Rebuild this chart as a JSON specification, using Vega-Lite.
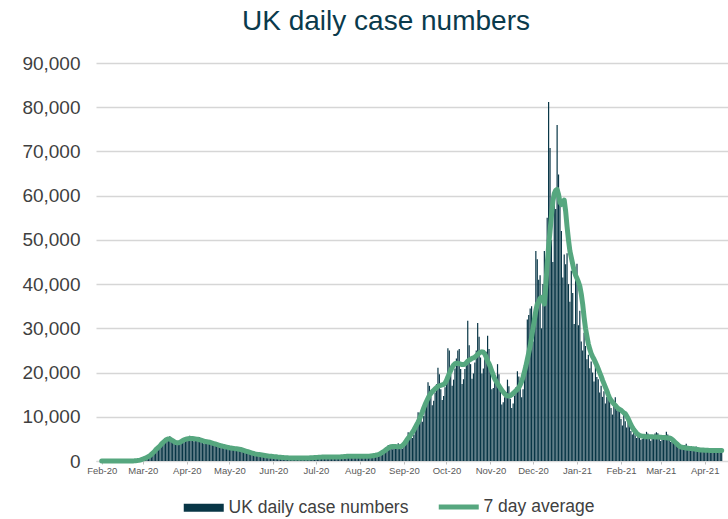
{
  "$schema": "https://vega.github.io/schema/vega-lite/v6.json",
  "width": 632,
  "height": 398,
  "autosize": {"type": "none"},
  "padding": {"left": 96, "top": 63, "right": 0, "bottom": 58},
  "background": "white",
  "config": {"view": {"stroke": null}},
  "title": {
    "text": "UK daily case numbers",
    "font": "Liberation Sans",
    "fontSize": 28,
    "fontWeight": "normal",
    "color": "#0a3a4c",
    "anchor": "middle",
    "dx": -26,
    "offset": 18
  },
  "data": {
    "values": [
      {"date":"2020-02-01","cases":0,"avg7":0},{"date":"2020-02-02","cases":0,"avg7":0},{"date":"2020-02-03","cases":0,"avg7":0},{"date":"2020-02-04","cases":0,"avg7":0},{"date":"2020-02-05","cases":0,"avg7":0},{"date":"2020-02-06","cases":2,"avg7":0},{"date":"2020-02-07","cases":0,"avg7":0},
      {"date":"2020-02-08","cases":1,"avg7":0},{"date":"2020-02-09","cases":0,"avg7":0},{"date":"2020-02-10","cases":0,"avg7":0},{"date":"2020-02-11","cases":4,"avg7":0},{"date":"2020-02-12","cases":0,"avg7":0},{"date":"2020-02-13","cases":0,"avg7":0},{"date":"2020-02-14","cases":0,"avg7":0},
      {"date":"2020-02-15","cases":0,"avg7":0},{"date":"2020-02-16","cases":0,"avg7":0},{"date":"2020-02-17","cases":0,"avg7":0},{"date":"2020-02-18","cases":0,"avg7":0},{"date":"2020-02-19","cases":0,"avg7":0},{"date":"2020-02-20","cases":0,"avg7":0},{"date":"2020-02-21","cases":1,"avg7":0},
      {"date":"2020-02-22","cases":10,"avg7":10},{"date":"2020-02-23","cases":30,"avg7":20},{"date":"2020-02-24","cases":50,"avg7":40},{"date":"2020-02-25","cases":80,"avg7":70},{"date":"2020-02-26","cases":120,"avg7":100},{"date":"2020-02-27","cases":170,"avg7":140},{"date":"2020-02-28","cases":230,"avg7":200},
      {"date":"2020-02-29","cases":320,"avg7":300},
      {"date":"2020-03-01","cases":390,"avg7":400},{"date":"2020-03-02","cases":480,"avg7":550},{"date":"2020-03-03","cases":640,"avg7":700},{"date":"2020-03-04","cases":830,"avg7":850},{"date":"2020-03-05","cases":1050,"avg7":1000},{"date":"2020-03-06","cases":1340,"avg7":1200},
      {"date":"2020-03-07","cases":1620,"avg7":1500},{"date":"2020-03-08","cases":1750,"avg7":1800},{"date":"2020-03-09","cases":1850,"avg7":2100},{"date":"2020-03-10","cases":2300,"avg7":2500},{"date":"2020-03-11","cases":2740,"avg7":2800},{"date":"2020-03-12","cases":3260,"avg7":3100},{"date":"2020-03-13","cases":3810,"avg7":3400},
      {"date":"2020-03-14","cases":4100,"avg7":3800},{"date":"2020-03-15","cases":3980,"avg7":4100},{"date":"2020-03-16","cases":3870,"avg7":4400},{"date":"2020-03-17","cases":4320,"avg7":4700},{"date":"2020-03-18","cases":4800,"avg7":4900},{"date":"2020-03-19","cases":5250,"avg7":5000},{"date":"2020-03-20","cases":5600,"avg7":5000},
      {"date":"2020-03-21","cases":5180,"avg7":4800},{"date":"2020-03-22","cases":4460,"avg7":4600},{"date":"2020-03-23","cases":3870,"avg7":4400},{"date":"2020-03-24","cases":3860,"avg7":4200},{"date":"2020-03-25","cases":4020,"avg7":4100},{"date":"2020-03-26","cases":4310,"avg7":4100},{"date":"2020-03-27","cases":4700,"avg7":4200},
      {"date":"2020-03-28","cases":4750,"avg7":4400},{"date":"2020-03-29","cases":4460,"avg7":4600},{"date":"2020-03-30","cases":4220,"avg7":4800},{"date":"2020-03-31","cases":4510,"avg7":4900},
      {"date":"2020-04-01","cases":4900,"avg7":5000},{"date":"2020-04-02","cases":5300,"avg7":5050},{"date":"2020-04-03","cases":5710,"avg7":5100},{"date":"2020-04-04","cases":5510,"avg7":5100},{"date":"2020-04-05","cases":4950,"avg7":5100},{"date":"2020-04-06","cases":4440,"avg7":5050},{"date":"2020-04-07","cases":4600,"avg7":5000},
      {"date":"2020-04-08","cases":4850,"avg7":4950},{"date":"2020-04-09","cases":5150,"avg7":4900},{"date":"2020-04-10","cases":5380,"avg7":4800},{"date":"2020-04-11","cases":5080,"avg7":4700},{"date":"2020-04-12","cases":4460,"avg7":4600},{"date":"2020-04-13","cases":3960,"avg7":4500},{"date":"2020-04-14","cases":4050,"avg7":4400},
      {"date":"2020-04-15","cases":4260,"avg7":4350},{"date":"2020-04-16","cases":4520,"avg7":4300},{"date":"2020-04-17","cases":4760,"avg7":4250},{"date":"2020-04-18","cases":4480,"avg7":4150},{"date":"2020-04-19","cases":3930,"avg7":4050},{"date":"2020-04-20","cases":3480,"avg7":3950},{"date":"2020-04-21","cases":3540,"avg7":3850},
      {"date":"2020-04-22","cases":3680,"avg7":3750},{"date":"2020-04-23","cases":3830,"avg7":3650},{"date":"2020-04-24","cases":3980,"avg7":3550},{"date":"2020-04-25","cases":3730,"avg7":3450},{"date":"2020-04-26","cases":3280,"avg7":3380},{"date":"2020-04-27","cases":2900,"avg7":3300},{"date":"2020-04-28","cases":2960,"avg7":3220},
      {"date":"2020-04-29","cases":3090,"avg7":3150},{"date":"2020-04-30","cases":3230,"avg7":3080},
      {"date":"2020-05-01","cases":3360,"avg7":3000},{"date":"2020-05-02","cases":3190,"avg7":2950},{"date":"2020-05-03","cases":2810,"avg7":2900},{"date":"2020-05-04","cases":2510,"avg7":2850},{"date":"2020-05-05","cases":2580,"avg7":2800},{"date":"2020-05-06","cases":2700,"avg7":2750},{"date":"2020-05-07","cases":2840,"avg7":2700},
      {"date":"2020-05-08","cases":2970,"avg7":2650},{"date":"2020-05-09","cases":2810,"avg7":2600},{"date":"2020-05-10","cases":2430,"avg7":2500},{"date":"2020-05-11","cases":2110,"avg7":2400},{"date":"2020-05-12","cases":2120,"avg7":2300},{"date":"2020-05-13","cases":2160,"avg7":2200},{"date":"2020-05-14","cases":2210,"avg7":2100},
      {"date":"2020-05-15","cases":2240,"avg7":2000},{"date":"2020-05-16","cases":2050,"avg7":1900},{"date":"2020-05-17","cases":1750,"avg7":1800},{"date":"2020-05-18","cases":1500,"avg7":1700},{"date":"2020-05-19","cases":1470,"avg7":1600},{"date":"2020-05-20","cases":1520,"avg7":1550},{"date":"2020-05-21","cases":1580,"avg7":1500},
      {"date":"2020-05-22","cases":1620,"avg7":1450},{"date":"2020-05-23","cases":1510,"avg7":1400},{"date":"2020-05-24","cases":1310,"avg7":1350},{"date":"2020-05-25","cases":1140,"avg7":1300},{"date":"2020-05-26","cases":1150,"avg7":1250},{"date":"2020-05-27","cases":1180,"avg7":1200},{"date":"2020-05-28","cases":1210,"avg7":1150},
      {"date":"2020-05-29","cases":1230,"avg7":1100},{"date":"2020-05-30","cases":1170,"avg7":1080},{"date":"2020-05-31","cases":1020,"avg7":1050},
      {"date":"2020-06-01","cases":880,"avg7":1000},{"date":"2020-06-02","cases":890,"avg7":970},{"date":"2020-06-03","cases":920,"avg7":940},{"date":"2020-06-04","cases":950,"avg7":900},{"date":"2020-06-05","cases":970,"avg7":870},{"date":"2020-06-06","cases":910,"avg7":840},{"date":"2020-06-07","cases":780,"avg7":800},
      {"date":"2020-06-08","cases":690,"avg7":780},{"date":"2020-06-09","cases":700,"avg7":760},{"date":"2020-06-10","cases":730,"avg7":740},{"date":"2020-06-11","cases":760,"avg7":720},{"date":"2020-06-12","cases":780,"avg7":700},{"date":"2020-06-13","cases":760,"avg7":700},{"date":"2020-06-14","cases":680,"avg7":700},
      {"date":"2020-06-15","cases":620,"avg7":700},{"date":"2020-06-16","cases":640,"avg7":700},{"date":"2020-06-17","cases":690,"avg7":700},{"date":"2020-06-18","cases":740,"avg7":700},{"date":"2020-06-19","cases":780,"avg7":700},{"date":"2020-06-20","cases":740,"avg7":700},{"date":"2020-06-21","cases":690,"avg7":700},
      {"date":"2020-06-22","cases":610,"avg7":700},{"date":"2020-06-23","cases":650,"avg7":700},{"date":"2020-06-24","cases":680,"avg7":700},{"date":"2020-06-25","cases":750,"avg7":700},{"date":"2020-06-26","cases":790,"avg7":700},{"date":"2020-06-27","cases":780,"avg7":720},{"date":"2020-06-28","cases":720,"avg7":740},
      {"date":"2020-06-29","cases":670,"avg7":760},{"date":"2020-06-30","cases":720,"avg7":780},
      {"date":"2020-07-01","cases":780,"avg7":800},{"date":"2020-07-02","cases":860,"avg7":820},{"date":"2020-07-03","cases":950,"avg7":850},{"date":"2020-07-04","cases":940,"avg7":870},{"date":"2020-07-05","cases":850,"avg7":880},{"date":"2020-07-06","cases":790,"avg7":900},{"date":"2020-07-07","cases":830,"avg7":900},
      {"date":"2020-07-08","cases":880,"avg7":900},{"date":"2020-07-09","cases":950,"avg7":900},{"date":"2020-07-10","cases":1010,"avg7":900},{"date":"2020-07-11","cases":970,"avg7":900},{"date":"2020-07-12","cases":870,"avg7":900},{"date":"2020-07-13","cases":790,"avg7":900},{"date":"2020-07-14","cases":830,"avg7":900},
      {"date":"2020-07-15","cases":880,"avg7":900},{"date":"2020-07-16","cases":950,"avg7":900},{"date":"2020-07-17","cases":1010,"avg7":900},{"date":"2020-07-18","cases":990,"avg7":920},{"date":"2020-07-19","cases":920,"avg7":950},{"date":"2020-07-20","cases":860,"avg7":980},{"date":"2020-07-21","cases":920,"avg7":1000},
      {"date":"2020-07-22","cases":1000,"avg7":1020},{"date":"2020-07-23","cases":1100,"avg7":1050},{"date":"2020-07-24","cases":1210,"avg7":1080},{"date":"2020-07-25","cases":1190,"avg7":1100},{"date":"2020-07-26","cases":1070,"avg7":1100},{"date":"2020-07-27","cases":970,"avg7":1100},{"date":"2020-07-28","cases":1010,"avg7":1100},
      {"date":"2020-07-29","cases":1080,"avg7":1100},{"date":"2020-07-30","cases":1160,"avg7":1100},{"date":"2020-07-31","cases":1230,"avg7":1100},
      {"date":"2020-08-01","cases":1190,"avg7":1100},{"date":"2020-08-02","cases":1070,"avg7":1100},{"date":"2020-08-03","cases":970,"avg7":1100},{"date":"2020-08-04","cases":1010,"avg7":1100},{"date":"2020-08-05","cases":1080,"avg7":1100},{"date":"2020-08-06","cases":1160,"avg7":1100},{"date":"2020-08-07","cases":1230,"avg7":1100},
      {"date":"2020-08-08","cases":1210,"avg7":1120},{"date":"2020-08-09","cases":1120,"avg7":1150},{"date":"2020-08-10","cases":1060,"avg7":1200},{"date":"2020-08-11","cases":1150,"avg7":1250},{"date":"2020-08-12","cases":1270,"avg7":1300},{"date":"2020-08-13","cases":1450,"avg7":1380},{"date":"2020-08-14","cases":1620,"avg7":1450},
      {"date":"2020-08-15","cases":1840,"avg7":1600},{"date":"2020-08-16","cases":1710,"avg7":1800},{"date":"2020-08-17","cases":1600,"avg7":2000},{"date":"2020-08-18","cases":1870,"avg7":2200},{"date":"2020-08-19","cases":2330,"avg7":2450},{"date":"2020-08-20","cases":2840,"avg7":2700},{"date":"2020-08-21","cases":3630,"avg7":2900},
      {"date":"2020-08-22","cases":3570,"avg7":3100},{"date":"2020-08-23","cases":3090,"avg7":3250},{"date":"2020-08-24","cases":2640,"avg7":3300},{"date":"2020-08-25","cases":2810,"avg7":3300},{"date":"2020-08-26","cases":3140,"avg7":3300},{"date":"2020-08-27","cases":3410,"avg7":3250},{"date":"2020-08-28","cases":4000,"avg7":3200},
      {"date":"2020-08-29","cases":3680,"avg7":3200},{"date":"2020-08-30","cases":3140,"avg7":3300},{"date":"2020-08-31","cases":2800,"avg7":3500},
      {"date":"2020-09-01","cases":3230,"avg7":3800},{"date":"2020-09-02","cases":3990,"avg7":4200},{"date":"2020-09-03","cases":4940,"avg7":4700},{"date":"2020-09-04","cases":6500,"avg7":5200},{"date":"2020-09-05","cases":6330,"avg7":5500},{"date":"2020-09-06","cases":5700,"avg7":6000},{"date":"2020-09-07","cases":5200,"avg7":6500},
      {"date":"2020-09-08","cases":5950,"avg7":7000},{"date":"2020-09-09","cases":7220,"avg7":7600},{"date":"2020-09-10","cases":8610,"avg7":8200},{"date":"2020-09-11","cases":11000,"avg7":8800},{"date":"2020-09-12","cases":10900,"avg7":9500},{"date":"2020-09-13","cases":9800,"avg7":10300},{"date":"2020-09-14","cases":8900,"avg7":11100},
      {"date":"2020-09-15","cases":10200,"avg7":12000},{"date":"2020-09-16","cases":12200,"avg7":12800},{"date":"2020-09-17","cases":14200,"avg7":13500},{"date":"2020-09-18","cases":17800,"avg7":14200},{"date":"2020-09-19","cases":17000,"avg7":14800},{"date":"2020-09-20","cases":14500,"avg7":15300},{"date":"2020-09-21","cases":12600,"avg7":15700},
      {"date":"2020-09-22","cases":13600,"avg7":16000},{"date":"2020-09-23","cases":15500,"avg7":16300},{"date":"2020-09-24","cases":17400,"avg7":16600},{"date":"2020-09-25","cases":21100,"avg7":16900},{"date":"2020-09-26","cases":19600,"avg7":17000},{"date":"2020-09-27","cases":16200,"avg7":17100},{"date":"2020-09-28","cases":13800,"avg7":17200},
      {"date":"2020-09-29","cases":14700,"avg7":17300},{"date":"2020-09-30","cases":16700,"avg7":17600},
      {"date":"2020-10-01","cases":19100,"avg7":18200},{"date":"2020-10-02","cases":25500,"avg7":19000},{"date":"2020-10-03","cases":25000,"avg7":19800},{"date":"2020-10-04","cases":19500,"avg7":20500},{"date":"2020-10-05","cases":17000,"avg7":21200},{"date":"2020-10-06","cases":18400,"avg7":21700},{"date":"2020-10-07","cases":20900,"avg7":22000},
      {"date":"2020-10-08","cases":23200,"avg7":22100},{"date":"2020-10-09","cases":25000,"avg7":22100},{"date":"2020-10-10","cases":25300,"avg7":22000},{"date":"2020-10-11","cases":20800,"avg7":21900},{"date":"2020-10-12","cases":17400,"avg7":21800},{"date":"2020-10-13","cases":18500,"avg7":21800},{"date":"2020-10-14","cases":20800,"avg7":21900},
      {"date":"2020-10-15","cases":22000,"avg7":22200},{"date":"2020-10-16","cases":31700,"avg7":22600},{"date":"2020-10-17","cases":26200,"avg7":22800},{"date":"2020-10-18","cases":21900,"avg7":23000},{"date":"2020-10-19","cases":18600,"avg7":23200},{"date":"2020-10-20","cases":19800,"avg7":23300},{"date":"2020-10-21","cases":22300,"avg7":23500},
      {"date":"2020-10-22","cases":25000,"avg7":23800},{"date":"2020-10-23","cases":31200,"avg7":24100},{"date":"2020-10-24","cases":28100,"avg7":24400},{"date":"2020-10-25","cases":23400,"avg7":24600},{"date":"2020-10-26","cases":19800,"avg7":24700},{"date":"2020-10-27","cases":20900,"avg7":24600},{"date":"2020-10-28","cases":23000,"avg7":24200},
      {"date":"2020-10-29","cases":24700,"avg7":23500},{"date":"2020-10-30","cases":28300,"avg7":22600},{"date":"2020-10-31","cases":25300,"avg7":22000},
      {"date":"2020-11-01","cases":20100,"avg7":21200},{"date":"2020-11-02","cases":16200,"avg7":20300},{"date":"2020-11-03","cases":16500,"avg7":19400},{"date":"2020-11-04","cases":17700,"avg7":18600},{"date":"2020-11-05","cases":18900,"avg7":18000},{"date":"2020-11-06","cases":21900,"avg7":17500},{"date":"2020-11-07","cases":19600,"avg7":17000},
      {"date":"2020-11-08","cases":15700,"avg7":16500},{"date":"2020-11-09","cases":12800,"avg7":16000},{"date":"2020-11-10","cases":13300,"avg7":15600},{"date":"2020-11-11","cases":14400,"avg7":15200},{"date":"2020-11-12","cases":15600,"avg7":14900},{"date":"2020-11-13","cases":18400,"avg7":14700},{"date":"2020-11-14","cases":16900,"avg7":14700},
      {"date":"2020-11-15","cases":14100,"avg7":14800},{"date":"2020-11-16","cases":12000,"avg7":15000},{"date":"2020-11-17","cases":13000,"avg7":15300},{"date":"2020-11-18","cases":14800,"avg7":15600},{"date":"2020-11-19","cases":16700,"avg7":15900},{"date":"2020-11-20","cases":20300,"avg7":16200},{"date":"2020-11-21","cases":19100,"avg7":16600},
      {"date":"2020-11-22","cases":16300,"avg7":17200},{"date":"2020-11-23","cases":14400,"avg7":18000},{"date":"2020-11-24","cases":16200,"avg7":19000},{"date":"2020-11-25","cases":19200,"avg7":20200},{"date":"2020-11-26","cases":22600,"avg7":21500},{"date":"2020-11-27","cases":32000,"avg7":23000},{"date":"2020-11-28","cases":33000,"avg7":24500},
      {"date":"2020-11-29","cases":34500,"avg7":26000},{"date":"2020-11-30","cases":35000,"avg7":28000},
      {"date":"2020-12-01","cases":27000,"avg7":30000},{"date":"2020-12-02","cases":31000,"avg7":32000},{"date":"2020-12-03","cases":47500,"avg7":34000},{"date":"2020-12-04","cases":45600,"avg7":35500},{"date":"2020-12-05","cases":41000,"avg7":36000},{"date":"2020-12-06","cases":42000,"avg7":36800},{"date":"2020-12-07","cases":30000,"avg7":37000},
      {"date":"2020-12-08","cases":40000,"avg7":36300},{"date":"2020-12-09","cases":47500,"avg7":35500},{"date":"2020-12-10","cases":36000,"avg7":39500},{"date":"2020-12-11","cases":55000,"avg7":44500},{"date":"2020-12-12","cases":81200,"avg7":48500},{"date":"2020-12-13","cases":70800,"avg7":52000},{"date":"2020-12-14","cases":50000,"avg7":55500},
      {"date":"2020-12-15","cases":45000,"avg7":58700},{"date":"2020-12-16","cases":60000,"avg7":60500},{"date":"2020-12-17","cases":57000,"avg7":61200},{"date":"2020-12-18","cases":76000,"avg7":61400},{"date":"2020-12-19","cases":64800,"avg7":60300},{"date":"2020-12-20","cases":58000,"avg7":58500},{"date":"2020-12-21","cases":52000,"avg7":58000},
      {"date":"2020-12-22","cases":41500,"avg7":58500},{"date":"2020-12-23","cases":46700,"avg7":59000},{"date":"2020-12-24","cases":44500,"avg7":56500},{"date":"2020-12-25","cases":47000,"avg7":53000},{"date":"2020-12-26","cases":40000,"avg7":50000},{"date":"2020-12-27","cases":36000,"avg7":47500},{"date":"2020-12-28","cases":43000,"avg7":46000},
      {"date":"2020-12-29","cases":38000,"avg7":44500},{"date":"2020-12-30","cases":31000,"avg7":43000},{"date":"2020-12-31","cases":42000,"avg7":42000},
      {"date":"2021-01-01","cases":44600,"avg7":41300},{"date":"2021-01-02","cases":30700,"avg7":40500},{"date":"2021-01-03","cases":34000,"avg7":39500},{"date":"2021-01-04","cases":27000,"avg7":37800},{"date":"2021-01-05","cases":25000,"avg7":35500},{"date":"2021-01-06","cases":29000,"avg7":32500},{"date":"2021-01-07","cases":26000,"avg7":30000},
      {"date":"2021-01-08","cases":23000,"avg7":28200},{"date":"2021-01-09","cases":24000,"avg7":26500},{"date":"2021-01-10","cases":21000,"avg7":25300},{"date":"2021-01-11","cases":22500,"avg7":24300},{"date":"2021-01-12","cases":20000,"avg7":23600},{"date":"2021-01-13","cases":18000,"avg7":23000},{"date":"2021-01-14","cases":21500,"avg7":22300},
      {"date":"2021-01-15","cases":19000,"avg7":21600},{"date":"2021-01-16","cases":18500,"avg7":20800},{"date":"2021-01-17","cases":15500,"avg7":20000},{"date":"2021-01-18","cases":17000,"avg7":19200},{"date":"2021-01-19","cases":14500,"avg7":18300},{"date":"2021-01-20","cases":15800,"avg7":17500},{"date":"2021-01-21","cases":13000,"avg7":16700},
      {"date":"2021-01-22","cases":14500,"avg7":15900},{"date":"2021-01-23","cases":16000,"avg7":15000},{"date":"2021-01-24","cases":13700,"avg7":14200},{"date":"2021-01-25","cases":12000,"avg7":13700},{"date":"2021-01-26","cases":10500,"avg7":13300},{"date":"2021-01-27","cases":13000,"avg7":12900},{"date":"2021-01-28","cases":14400,"avg7":12600},
      {"date":"2021-01-29","cases":11500,"avg7":12200},{"date":"2021-01-30","cases":12000,"avg7":11900},{"date":"2021-01-31","cases":11400,"avg7":11700},
      {"date":"2021-02-01","cases":9500,"avg7":11500},{"date":"2021-02-02","cases":8000,"avg7":11200},{"date":"2021-02-03","cases":10400,"avg7":10900},{"date":"2021-02-04","cases":9000,"avg7":10700},{"date":"2021-02-05","cases":7600,"avg7":10200},{"date":"2021-02-06","cases":10000,"avg7":9600},{"date":"2021-02-07","cases":8500,"avg7":8900},
      {"date":"2021-02-08","cases":6800,"avg7":8200},{"date":"2021-02-09","cases":6000,"avg7":7600},{"date":"2021-02-10","cases":6500,"avg7":7100},{"date":"2021-02-11","cases":5800,"avg7":6700},{"date":"2021-02-12","cases":5200,"avg7":6300},{"date":"2021-02-13","cases":6400,"avg7":6000},{"date":"2021-02-14","cases":5600,"avg7":5800},
      {"date":"2021-02-15","cases":4800,"avg7":5700},{"date":"2021-02-16","cases":5000,"avg7":5600},{"date":"2021-02-17","cases":5500,"avg7":5600},{"date":"2021-02-18","cases":6000,"avg7":5500},{"date":"2021-02-19","cases":6600,"avg7":5500},{"date":"2021-02-20","cases":6200,"avg7":5500},{"date":"2021-02-21","cases":5400,"avg7":5500},
      {"date":"2021-02-22","cases":4600,"avg7":5500},{"date":"2021-02-23","cases":5000,"avg7":5500},{"date":"2021-02-24","cases":5600,"avg7":5450},{"date":"2021-02-25","cases":6200,"avg7":5400},{"date":"2021-02-26","cases":6500,"avg7":5400},{"date":"2021-02-27","cases":6300,"avg7":5400},{"date":"2021-02-28","cases":5300,"avg7":5400},
      {"date":"2021-03-01","cases":4500,"avg7":5350},{"date":"2021-03-02","cases":5100,"avg7":5300},{"date":"2021-03-03","cases":5400,"avg7":5300},{"date":"2021-03-04","cases":5900,"avg7":5300},{"date":"2021-03-05","cases":6600,"avg7":5250},{"date":"2021-03-06","cases":6000,"avg7":5200},{"date":"2021-03-07","cases":5000,"avg7":5200},
      {"date":"2021-03-08","cases":4300,"avg7":5100},{"date":"2021-03-09","cases":4600,"avg7":4900},{"date":"2021-03-10","cases":4800,"avg7":4600},{"date":"2021-03-11","cases":4600,"avg7":4300},{"date":"2021-03-12","cases":4000,"avg7":4000},{"date":"2021-03-13","cases":4300,"avg7":3700},{"date":"2021-03-14","cases":3500,"avg7":3400},
      {"date":"2021-03-15","cases":2900,"avg7":3200},{"date":"2021-03-16","cases":3000,"avg7":3100},{"date":"2021-03-17","cases":3300,"avg7":3050},{"date":"2021-03-18","cases":3600,"avg7":3000},{"date":"2021-03-19","cases":3900,"avg7":2950},{"date":"2021-03-20","cases":3400,"avg7":2900},{"date":"2021-03-21","cases":2800,"avg7":2850},
      {"date":"2021-03-22","cases":2400,"avg7":2800},{"date":"2021-03-23","cases":2500,"avg7":2800},{"date":"2021-03-24","cases":2800,"avg7":2750},{"date":"2021-03-25","cases":3100,"avg7":2700},{"date":"2021-03-26","cases":3300,"avg7":2650},{"date":"2021-03-27","cases":3000,"avg7":2600},{"date":"2021-03-28","cases":2500,"avg7":2550},
      {"date":"2021-03-29","cases":2100,"avg7":2500},{"date":"2021-03-30","cases":2300,"avg7":2500},{"date":"2021-03-31","cases":2500,"avg7":2500},
      {"date":"2021-04-01","cases":2700,"avg7":2450},{"date":"2021-04-02","cases":2900,"avg7":2450},{"date":"2021-04-03","cases":2800,"avg7":2450},{"date":"2021-04-04","cases":2300,"avg7":2400},{"date":"2021-04-05","cases":2000,"avg7":2400},{"date":"2021-04-06","cases":2100,"avg7":2400},{"date":"2021-04-07","cases":2400,"avg7":2400},
      {"date":"2021-04-08","cases":2600,"avg7":2400},{"date":"2021-04-09","cases":2900,"avg7":2400},{"date":"2021-04-10","cases":2700,"avg7":2400},{"date":"2021-04-11","cases":2200,"avg7":2400},{"date":"2021-04-12","cases":2000,"avg7":2400},{"date":"2021-04-13","cases":2200,"avg7":2400}
    ]
  },
  "encoding": {
    "x": {
      "field": "date",
      "type": "temporal",
      "title": null,
      "scale": {
        "type": "utc",
        "nice": false,
        "domain": [
          {"year": 2020, "month": 1, "date": 31, "hours": 12, "utc": true},
          {"year": 2021, "month": 4, "date": 13, "hours": 22, "utc": true}
        ]
      },
      "axis": {
        "format": "%b-%y",
        "tickCount": {"interval": "month", "step": 1},
        "grid": false,
        "labelFont": "Liberation Sans",
        "labelFontSize": 9.5,
        "labelColor": "#595959",
        "labelPadding": 1,
        "labelOverlap": false,
        "labelFlush": false,
        "tickSize": 3,
        "tickColor": "#bfbfbf",
        "domainColor": "#d9d9d9",
        "domainWidth": 1
      }
    }
  },
  "layer": [
    {
      "mark": {"type": "bar", "size": 1.2},
      "encoding": {
        "y": {
          "field": "cases",
          "type": "quantitative",
          "title": null,
          "scale": {"domain": [0, 90000], "nice": false},
          "axis": {
            "values": [0, 10000, 20000, 30000, 40000, 50000, 60000, 70000, 80000, 90000],
            "format": ",.0f",
            "labelFont": "Liberation Sans",
            "labelFontSize": 19,
            "labelColor": "#3f3f3f",
            "labelPadding": 16,
            "ticks": false,
            "domain": false,
            "grid": true,
            "gridColor": "#d6d6d6",
            "gridWidth": 1.5
          }
        },
        "color": {
          "datum": "UK daily case numbers",
          "type": "nominal",
          "scale": {
            "domain": ["UK daily case numbers", "7 day average"],
            "range": ["#083646", "#56a77f"]
          },
          "legend": {
            "title": null,
            "orient": "none",
            "legendX": 99,
            "legendY": 435,
            "direction": "horizontal",
            "symbolSize": 1600,
            "labelFont": "Liberation Sans",
            "labelFontSize": 17.5,
            "labelColor": "#404040",
            "labelLimit": 400,
            "labelOffset": 16,
            "columnPadding": 19,
            "encode": {
              "symbols": {
                "update": {
                  "shape": {"signal": "datum.value === '7 day average' ? 'stroke' : 'M-1,-0.2H1V0.2H-1Z'"},
                  "fill": {"signal": "datum.value === '7 day average' ? 'transparent' : '#083646'"},
                  "stroke": {"signal": "datum.value === '7 day average' ? '#56a77f' : 'transparent'"},
                  "strokeWidth": {"signal": "datum.value === '7 day average' ? 5 : 0"},
                  "opacity": {"value": 1}
                }
              }
            }
          }
        }
      }
    },
    {
      "mark": {"type": "line", "strokeWidth": 5, "strokeJoin": "round", "strokeCap": "round"},
      "encoding": {
        "y": {"field": "avg7", "type": "quantitative"},
        "color": {"datum": "7 day average", "type": "nominal"}
      }
    }
  ]
}
